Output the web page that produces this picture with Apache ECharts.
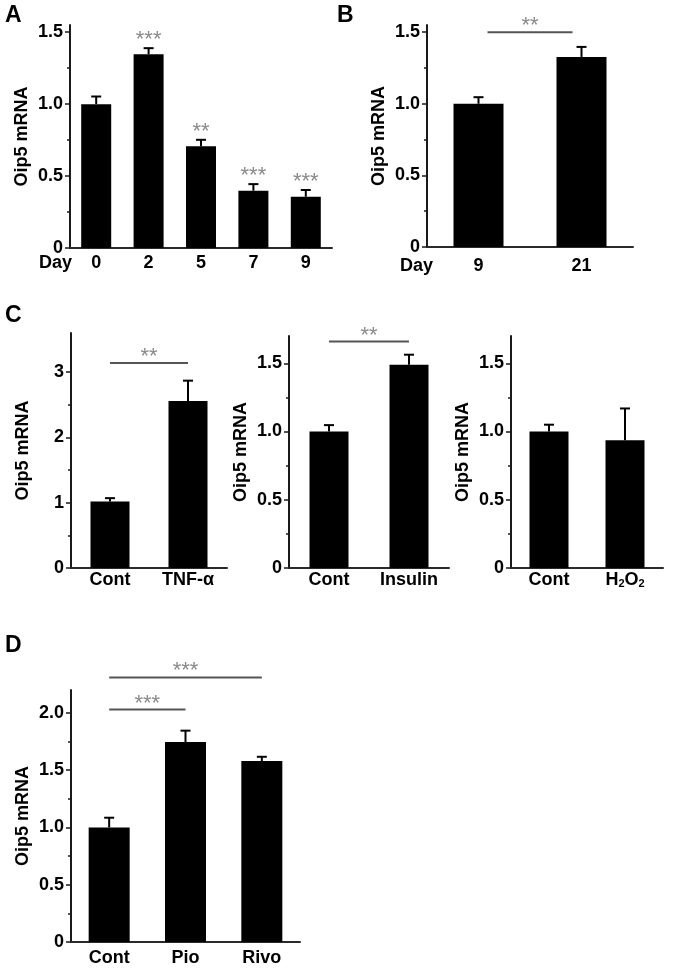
<!DOCTYPE html>
<html>
<head>
<meta charset="utf-8">
<script src="https://cdn.jsdelivr.net/npm/echarts@6/dist/echarts.min.js"></script>
<style>
html,body{margin:0;padding:0;background:#fff;}
#chart{width:683px;height:971px;}
</style>
</head>
<body>
<div id="chart"></div>
<script>
// ---------- DATA ----------
// Panel A: differentiation time course
const catsA = ['0', '2', '5', '7', '9'];
const meanA = [1.0, 1.347, 0.708, 0.398, 0.356];
const errA = [0.053, 0.042, 0.044, 0.046, 0.047];
const starsA = ['', '***', '**', '***', '***'];
// Panel B
const catsB = ['9', '21'];
const meanB = [1.0, 1.327];
const errB = [0.046, 0.07];
// Panel C (three sub-panels)
const catsC1 = ['Cont', 'TNF-α'];
const meanC1 = [1.02, 2.56];
const errC1 = [0.05, 0.31];
const catsC2 = ['Cont', 'Insulin'];
const meanC2 = [1.0, 1.49];
const errC2 = [0.047, 0.073];
const catsC3 = ['Cont', 'H₂O₂'];
const meanC3 = [1.0, 0.936];
const errC3 = [0.05, 0.233];
// Panel D
const catsD = ['Cont', 'Pio', 'Rivo'];
const meanD = [1.0, 1.745, 1.58];
const errD = [0.085, 0.1, 0.037];
// significance brackets: [fromIndex, toIndex, yValue] and their star labels
const bracketsB = [[0, 1, 1.5]];
const bracketStarsB = ['**'];
const bracketsC1 = [[0, 1, 3.14]];
const bracketStarsC1 = ['**'];
const bracketsC2 = [[0, 1, 1.66]];
const bracketStarsC2 = ['**'];
const bracketsD = [[0, 1, 2.03], [0, 2, 2.31]];
const bracketStarsD = ['***', '***'];
// y-axis tick values and labels
const ticksHalf = [0, 0.5, 1.0, 1.5];
const ticksHalfLabels = ['0', '0.5', '1.0', '1.5'];
const minorQuarter = [0.25, 0.75, 1.25];
const ticksC1 = [0, 1, 2, 3];
const ticksC1Labels = ['0', '1', '2', '3'];
const minorC1 = [0.5, 1.5, 2.5];
const ticksD = [0, 0.5, 1.0, 1.5, 2.0];
const ticksDLabels = ['0', '0.5', '1.0', '1.5', '2.0'];
const minorD = [0.25, 0.75, 1.25, 1.75];
const panelLetters = ['A', 'B', 'C', 'D'];

// ---------- LAYOUT / STYLE ----------
const FONT = '"Liberation Sans", Arial, Helvetica, sans-serif';
const panels = [
  {cats: catsA, mean: meanA, err: errA, stars: starsA, brackets: [], bstars: [], grid: {left: 70, top: 25, width: 262, height: 223}, max: 1.55, ticks: ticksHalf, tickLabels: ticksHalfLabels, minors: minorQuarter, barWidth: 30, xName: 'Day', xMargin: 6, nameGapDay: -2, inset: 0},
  {cats: catsB, mean: meanB, err: errB, stars: null, brackets: bracketsB, bstars: bracketStarsB, grid: {left: 427, top: 25, width: 206, height: 222}, max: 1.55, ticks: ticksHalf, tickLabels: ticksHalfLabels, minors: minorQuarter, barWidth: 50, xName: 'Day', xMargin: 10, nameGapDay: -6, inset: 9},
  {cats: catsC1, mean: meanC1, err: errC1, stars: null, brackets: bracketsC1, bstars: bracketStarsC1, grid: {left: 71, top: 333, width: 156, height: 235}, max: 3.6, ticks: ticksC1, tickLabels: ticksC1Labels, minors: minorC1, barWidth: 39, xName: '', xMargin: 3, inset: 0},
  {cats: catsC2, mean: meanC2, err: errC2, stars: null, brackets: bracketsC2, bstars: bracketStarsC2, grid: {left: 289, top: 336, width: 160, height: 232}, max: 1.7, ticks: ticksHalf, tickLabels: ticksHalfLabels, minors: minorQuarter, barWidth: 39, xName: '', xMargin: 3, inset: 0},
  {cats: catsC3, mean: meanC3, err: errC3, stars: null, brackets: [], bstars: [], grid: {left: 511, top: 336, width: 152, height: 232}, max: 1.7, ticks: ticksHalf, tickLabels: ticksHalfLabels, minors: minorQuarter, barWidth: 39, xName: '', xMargin: 3, inset: 0},
  {cats: catsD, mean: meanD, err: errD, stars: null, brackets: bracketsD, bstars: bracketStarsD, grid: {left: 71, top: 690, width: 229, height: 252}, max: 2.2, ticks: ticksD, tickLabels: ticksDLabels, minors: minorD, barWidth: 41, xName: '', xMargin: 7, inset: 0}
];
const letterPos = [[5, 4], [337, 4], [5, 304], [5, 634]];
const STAR_FONT = 'normal 22px ' + FONT;
const STAR_COLOR = '#8a8a8a';

function errRender(stars) {
  return function (params, api) {
    const x = api.value(0), m = api.value(1), e = api.value(2);
    const p0 = api.coord([x, m]);
    const p1 = api.coord([x, m + e]);
    const cap = 10;
    const ch = [
      {type: 'line', shape: {x1: p0[0], y1: p0[1], x2: p1[0], y2: p1[1]}, style: {stroke: '#000', lineWidth: 2}},
      {type: 'line', shape: {x1: p1[0] - cap / 2, y1: p1[1], x2: p1[0] + cap / 2, y2: p1[1]}, style: {stroke: '#000', lineWidth: 2}}
    ];
    const s = stars ? stars[params.dataIndex] : '';
    if (s) {
      ch.push({type: 'text', style: {text: s, x: p1[0], y: p1[1] - 8, align: 'center', verticalAlign: 'middle', font: STAR_FONT, fill: STAR_COLOR}});
    }
    return {type: 'group', children: ch};
  };
}
function bracketRender(inset, labels) {
  return function (params, api) {
    const a = api.coord([api.value(0), api.value(2)]);
    const b = api.coord([api.value(1), api.value(2)]);
    const label = labels[params.dataIndex];
    return {type: 'group', children: [
      {type: 'line', shape: {x1: a[0] + inset, y1: a[1], x2: b[0] - inset, y2: b[1]}, style: {stroke: '#555', lineWidth: 2}},
      {type: 'text', style: {text: label, x: (a[0] + b[0]) / 2, y: a[1] - 6, align: 'center', verticalAlign: 'middle', font: STAR_FONT, fill: STAR_COLOR}}
    ]};
  };
}

const grids = [], xAxes = [], yAxes = [], series = [];
panels.forEach(function (p, k) {
  grids.push(Object.assign({containLabel: false}, p.grid));
  const labelStyle = {color: '#000', fontWeight: 'bold', fontSize: 18, fontFamily: FONT};
  xAxes.push({
    gridIndex: k, type: 'category', data: p.cats,
    axisLine: {show: true, lineStyle: {color: '#2a2a2a', width: 2}},
    axisTick: {show: false},
    axisLabel: Object.assign({}, labelStyle, {
      margin: p.xMargin, interval: 0,
      formatter: function (v) { return v.replace(/₂/g, '{s|2}'); },
      rich: {s: {fontSize: 11, fontWeight: 'bold', fontFamily: FONT, color: '#000', padding: [7, 0, 0, 0]}}
    }),
    name: p.xName, nameLocation: 'start', nameGap: p.nameGapDay || 0, nameMoveOverlap: false,
    nameTextStyle: Object.assign({}, labelStyle, {align: 'right', verticalAlign: 'top', padding: [p.xMargin, 0, 0, 0]})
  });
  const mainIdx = yAxes.length;
  yAxes.push({
    gridIndex: k, type: 'value', position: 'left', min: 0, max: p.max,
    axisLine: {show: true, lineStyle: {color: '#1a1a1a', width: 2}},
    axisTick: {show: true, length: 5, lineStyle: {color: '#1a1a1a', width: 1.5}, customValues: p.ticks},
    axisLabel: Object.assign({}, labelStyle, {margin: 7, customValues: p.ticks,
      formatter: function (v) { const i = p.ticks.indexOf(v); return i >= 0 ? p.tickLabels[i] : ''; }}),
    splitLine: {show: false},
    name: 'Oip5 mRNA', nameLocation: 'middle', nameGap: 39, nameMoveOverlap: false,
    nameTextStyle: Object.assign({}, labelStyle)
  });
  yAxes.push({
    gridIndex: k, type: 'value', position: 'left', min: 0, max: p.max,
    axisLine: {show: false},
    axisTick: {show: true, length: 3, lineStyle: {color: '#1a1a1a', width: 1.5}, customValues: p.minors},
    axisLabel: {show: false}, splitLine: {show: false}
  });
  series.push({
    type: 'bar', xAxisIndex: k, yAxisIndex: mainIdx, data: p.mean, barWidth: p.barWidth,
    itemStyle: {color: '#000'}, silent: true, animation: false
  });
  series.push({
    type: 'custom', xAxisIndex: k, yAxisIndex: mainIdx, renderItem: errRender(p.stars),
    data: p.mean.map(function (m, i) { return [i, m, p.err[i]]; }), z: 5, animation: false, clip: false
  });
  if (p.brackets.length) {
    series.push({
      type: 'custom', xAxisIndex: k, yAxisIndex: mainIdx, renderItem: bracketRender(p.inset, p.bstars),
      data: p.brackets, z: 5, animation: false, clip: false
    });
  }
});

const chart = echarts.init(document.getElementById('chart'), null, {renderer: 'canvas'});
chart.setOption({
  backgroundColor: '#fff',
  animation: false,
  grid: grids, xAxis: xAxes, yAxis: yAxes, series: series,
  graphic: panelLetters.map(function (t, i) {
    return {type: 'text', left: letterPos[i][0], top: letterPos[i][1], style: {text: t, font: 'bold 23px ' + FONT, fill: '#000'}};
  })
});
</script>
</body>
</html>
